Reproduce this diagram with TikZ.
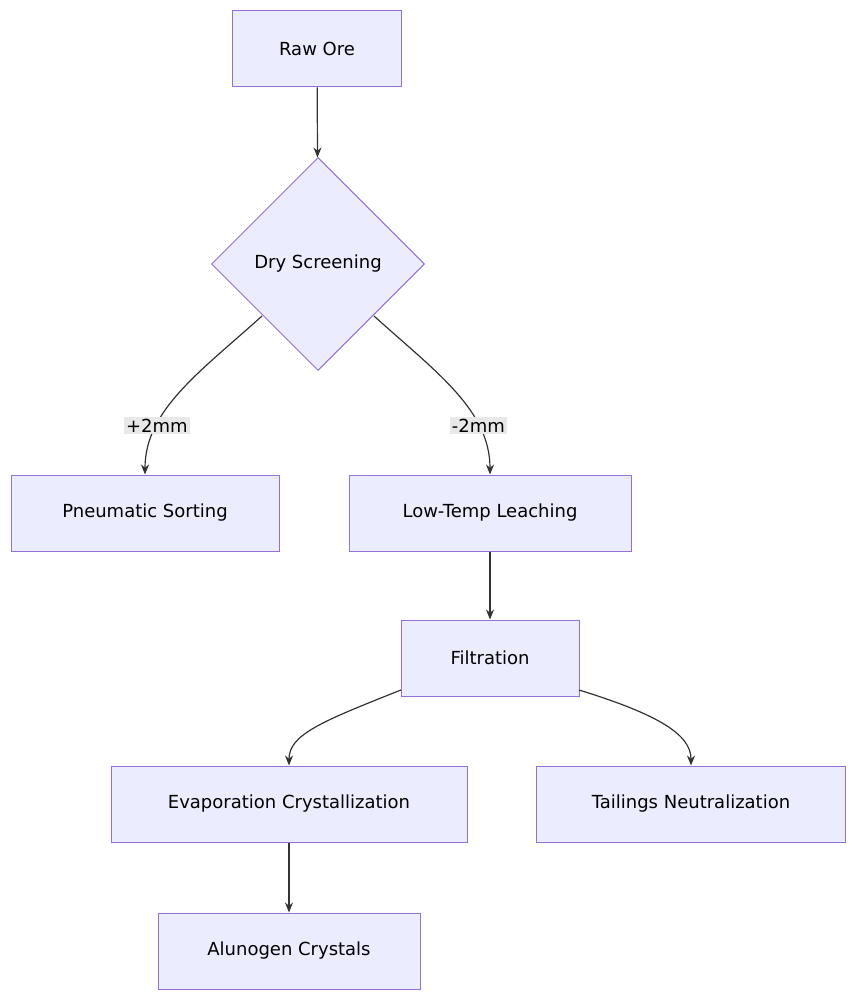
\documentclass[tikz,border=0pt]{standalone}
\usepackage{fontspec}
\setmainfont{DejaVu Sans}
\usetikzlibrary{shapes.geometric,arrows.meta}
\definecolor{boxfill}{HTML}{ECECFF}
\definecolor{boxline}{HTML}{9370DB}
\definecolor{edgecol}{HTML}{333333}
\definecolor{lblfill}{HTML}{E8E8E8}
\begin{document}
\begin{tikzpicture}
  [x=1pt, y=-1pt,
   every node/.style={font=\fontsize{18}{22}\selectfont, text=black},
   procbox/.style={draw=boxline, fill=boxfill, line width=1pt, minimum height=76pt, inner sep=0pt},
   decision/.style={draw=boxline, fill=boxfill, line width=1pt, diamond, minimum width=213pt, minimum height=213pt, inner sep=0pt},
   edgelbl/.style={fill=lblfill, inner sep=2pt},
   flow/.style={draw=edgecol, line width=1.2pt, -{Stealth[length=10pt,width=8pt]}}]
  \useasboundingbox (0,0) rectangle (857,1000);
  \node[procbox, minimum width=169pt] (raw) at (317,49) {Raw Ore};
  \node[decision] (dry) at (318,264) {Dry Screening};
  \node[procbox, minimum width=268pt] (pneu) at (145,513) {Pneumatic Sorting};
  \node[procbox, minimum width=282pt] (leach) at (490,513) {Low-Temp Leaching};
  \node[procbox, minimum width=178pt] (filt) at (490,658) {Filtration};
  \node[procbox, minimum width=356pt] (evap) at (289,804) {Evaporation Crystallization};
  \node[procbox, minimum width=309pt] (tail) at (691,804) {Tailings Neutralization};
  \node[procbox, minimum width=262pt] (alun) at (289,951) {Alunogen Crystals};
  \coordinate (dryl) at (262,316);
  \coordinate (dryr) at (374,316);
  \coordinate (filtl) at (401,690);
  \coordinate (filtr) at (579,690);
  \draw[flow] (raw) -- (dry);
  \draw[flow] (dryl) .. controls (200,372) and (145,410) .. node[edgelbl, pos=0.72] {+2mm} (pneu.north);
  \draw[flow] (dryr) .. controls (436,372) and (490,410) .. node[edgelbl, pos=0.72] {-2mm} (leach.north);
  \draw[flow] (leach) -- (filt);
  \draw[flow] (filtl) .. controls (320,722) and (289,735) .. (evap.north);
  \draw[flow] (filtr) .. controls (660,715) and (691,735) .. (tail.north);
  \draw[flow] (evap) -- (alun);
\end{tikzpicture}
\end{document}
